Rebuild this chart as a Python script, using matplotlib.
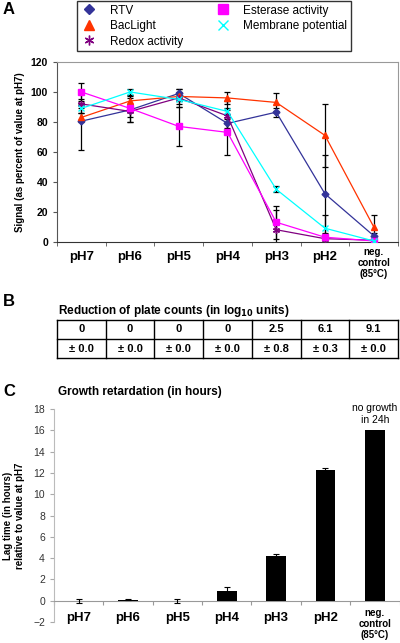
import numpy as np
import matplotlib
matplotlib.use("Agg")
import matplotlib.pyplot as plt
from matplotlib.lines import Line2D

plt.rcParams['font.family'] = ['Liberation Sans', 'DejaVu Sans']

cats = ['pH7', 'pH6', 'pH5', 'pH4', 'pH3', 'pH2', 'neg.\ncontrol\n(85°C)']

# panel A: signal as percent of value at pH7
rtv = [80.5, 88, 99, 79, 86.5, 32, 4]
rtv_err = [19, 8, 3, 3, 3, 26, 2]
baclight = [83, 94, 97, 96, 93, 71, 10]
baclight_err = [3, 3, 3, 4, 6, 21, 8]
redox = [92, 87, 96, 84, 8, 2, 1]
redox_err = [3, 4, 6, 10, 13, 2, 1]
esterase = [100, 89, 77, 73, 13, 3, 0.5]
esterase_err = [6, 9, 13, 15, 11, 2, 1]
membrane = [89, 100, 95, 87, 35, 9, 0.5]
membrane_err = [3, 2, 3, 2, 2, 9, 1]

# panel B: reduction of plate counts (log10 units)
plate_mean = ['0', '0', '0', '0', '2.5', '6.1', '9.1']
plate_sd = ['± 0.0', '± 0.0', '± 0.0', '± 0.0', '± 0.8', '± 0.3', '± 0.0']

# panel C: lag time relative to pH7 (hours)
lag = [0, 0.1, 0, 0.9, 4.2, 12.3, 16]
lag_err = [0.2, 0.05, 0.2, 0.4, 0.2, 0.2, 0]

W, H = 400, 643
fig = plt.figure(figsize=(4, 6.43), dpi=100)

def box(l, t, r, b):
    return [l / W, 1 - b / H, (r - l) / W, (b - t) / H]

x = np.arange(len(cats))

# ---------- panel A ----------
ax = fig.add_axes(box(57, 62, 398, 241.7))
series = [
    ('RTV', rtv, rtv_err, '#333399', 'D', 3.5),
    ('BacLight', baclight, baclight_err, '#FF3300', '^', 4.5),
    ('Redox activity', redox, redox_err, '#800080', (6, 2, 0), 5),
    ('Esterase activity', esterase, esterase_err, '#FF00FF', 's', 4.5),
    ('Membrane potential', membrane, membrane_err, '#00FFFF', 'x', 4.5),
]
for name, vals, err, col, m, ms in series:
    ax.errorbar(x, vals, yerr=err, fmt='none', ecolor='black', elinewidth=0.9,
                capsize=2, capthick=0.9, zorder=2)
for name, vals, err, col, m, ms in series:
    ax.plot(x, vals, color=col, lw=0.9, marker=m, ms=ms, mec=col, mfc=col,
            mew=1, zorder=3)
ax.set_xlim(-0.5, 6.5)
ax.set_ylim(0, 120)
ax.set_yticks(range(0, 121, 20))
ax.set_xticks(x)
ax.set_xticklabels([])
ax.set_xticks(np.arange(-0.5, 7, 1), minor=True)
ax.tick_params(axis='x', which='major', length=0)
ax.tick_params(axis='x', which='minor', length=3, color='#555555')
ax.tick_params(axis='y', length=3, labelsize=7.5, color='#555555')
for lab in ax.get_yticklabels():
    lab.set_fontweight('bold')
for s in ['top', 'right']:
    ax.spines[s].set_color('#999999')
ax.spines['left'].set_color('#555555')
ax.spines['bottom'].set_color('#333333')
ax.set_ylabel('Signal (as percent of value at pH7)', fontsize=7, fontweight='bold',
              labelpad=4)
for i, c in enumerate(cats):
    if '\n' in c:
        ax.text(i, -3.5, c, ha='center', va='top', fontsize=7, fontweight='bold',
                linespacing=1.1)
    else:
        ax.text(i, -6, c, ha='center', va='top', fontsize=9.5, fontweight='bold')

handles = [Line2D([], [], ls='none', marker=m, color=col, ms=ms + 2, mew=1)
           for name, vals, err, col, m, ms in series]
fig.legend(handles, [s[0] for s in series], ncol=2, loc='upper left',
           bbox_to_anchor=(77 / W, 1 - 1 / H), frameon=True, fancybox=False,
           edgecolor='black', fontsize=8.5, handlelength=1.5, handletextpad=1.0,
           columnspacing=2.6, labelspacing=0.3, borderpad=0.3,
           borderaxespad=0)

fig.text(3 / W, 1 - 9 / H, 'A', fontsize=12, fontweight='bold', va='center')

# ---------- panel B ----------
fig.text(3 / W, 1 - 302 / H, 'B', fontsize=12, fontweight='bold', va='center')
fig.text(58 / W, 1 - 311 / H, 'Reduction of plate counts (in log$_{\\mathbf{10}}$ units)',
         fontsize=8.5, fontweight='bold', va='center')
tb = fig.add_axes(box(57, 320, 398, 358))
tb.set_xlim(0, 7)
tb.set_ylim(0, 2)
tb.axis('off')
for i in range(8):
    tb.plot([i, i], [0, 2], color='black', lw=1, clip_on=False)
for j in range(3):
    tb.plot([0, 7], [j, j], color='black', lw=1, clip_on=False)
for i in range(7):
    tb.text(i + 0.5, 1.5, plate_mean[i], ha='center', va='center', fontsize=8,
            fontweight='bold')
    tb.text(i + 0.5, 0.5, plate_sd[i], ha='center', va='center', fontsize=8,
            fontweight='bold')

# ---------- panel C ----------
fig.text(3 / W, 1 - 392 / H, 'C', fontsize=12, fontweight='bold', va='center')
fig.text(58 / W, 1 - 392 / H, 'Growth retardation (in hours)', fontsize=8.5,
         fontweight='bold', va='center')
axc = fig.add_axes(box(54, 409, 399.5, 622))
axc.bar(x, lag, width=0.4, color='black', zorder=3)
axc.errorbar(x[:-1], lag[:-1], yerr=lag_err[:-1], fmt='none', ecolor='black',
             elinewidth=0.8, capsize=2, capthick=0.8, zorder=4)
axc.set_xlim(-0.5, 6.5)
axc.set_ylim(-2, 18)
axc.set_yticks(range(-2, 19, 2))
axc.tick_params(axis='y', length=3, color='#aaaaaa', labelsize=7.5,
                labelcolor='#333333')
axc.spines['top'].set_visible(False)
axc.spines['right'].set_visible(False)
axc.spines['left'].set_color('#bbbbbb')
axc.spines['bottom'].set_position(('data', 0))
axc.spines['bottom'].set_color('#999999')
axc.set_xticks(np.arange(-0.5, 7, 1))
axc.set_xticklabels([])
axc.tick_params(axis='x', length=3, color='#999999', direction='out')
for i, c in enumerate(cats):
    if '\n' in c:
        axc.text(i, -0.7, c, ha='center', va='top', fontsize=7, fontweight='bold',
                 linespacing=1.1)
    else:
        axc.text(i, -1.1, c, ha='center', va='top', fontsize=9.5, fontweight='bold')
axc.text(6, 16.5, 'no growth\nin 24h', ha='center', va='bottom', fontsize=7.5,
         linespacing=1.2)
axc.set_ylabel('Lag time (in hours)\nrelative to value at pH7', fontsize=7,
               fontweight='bold', labelpad=6)

fig.savefig('out.png', dpi=100)
